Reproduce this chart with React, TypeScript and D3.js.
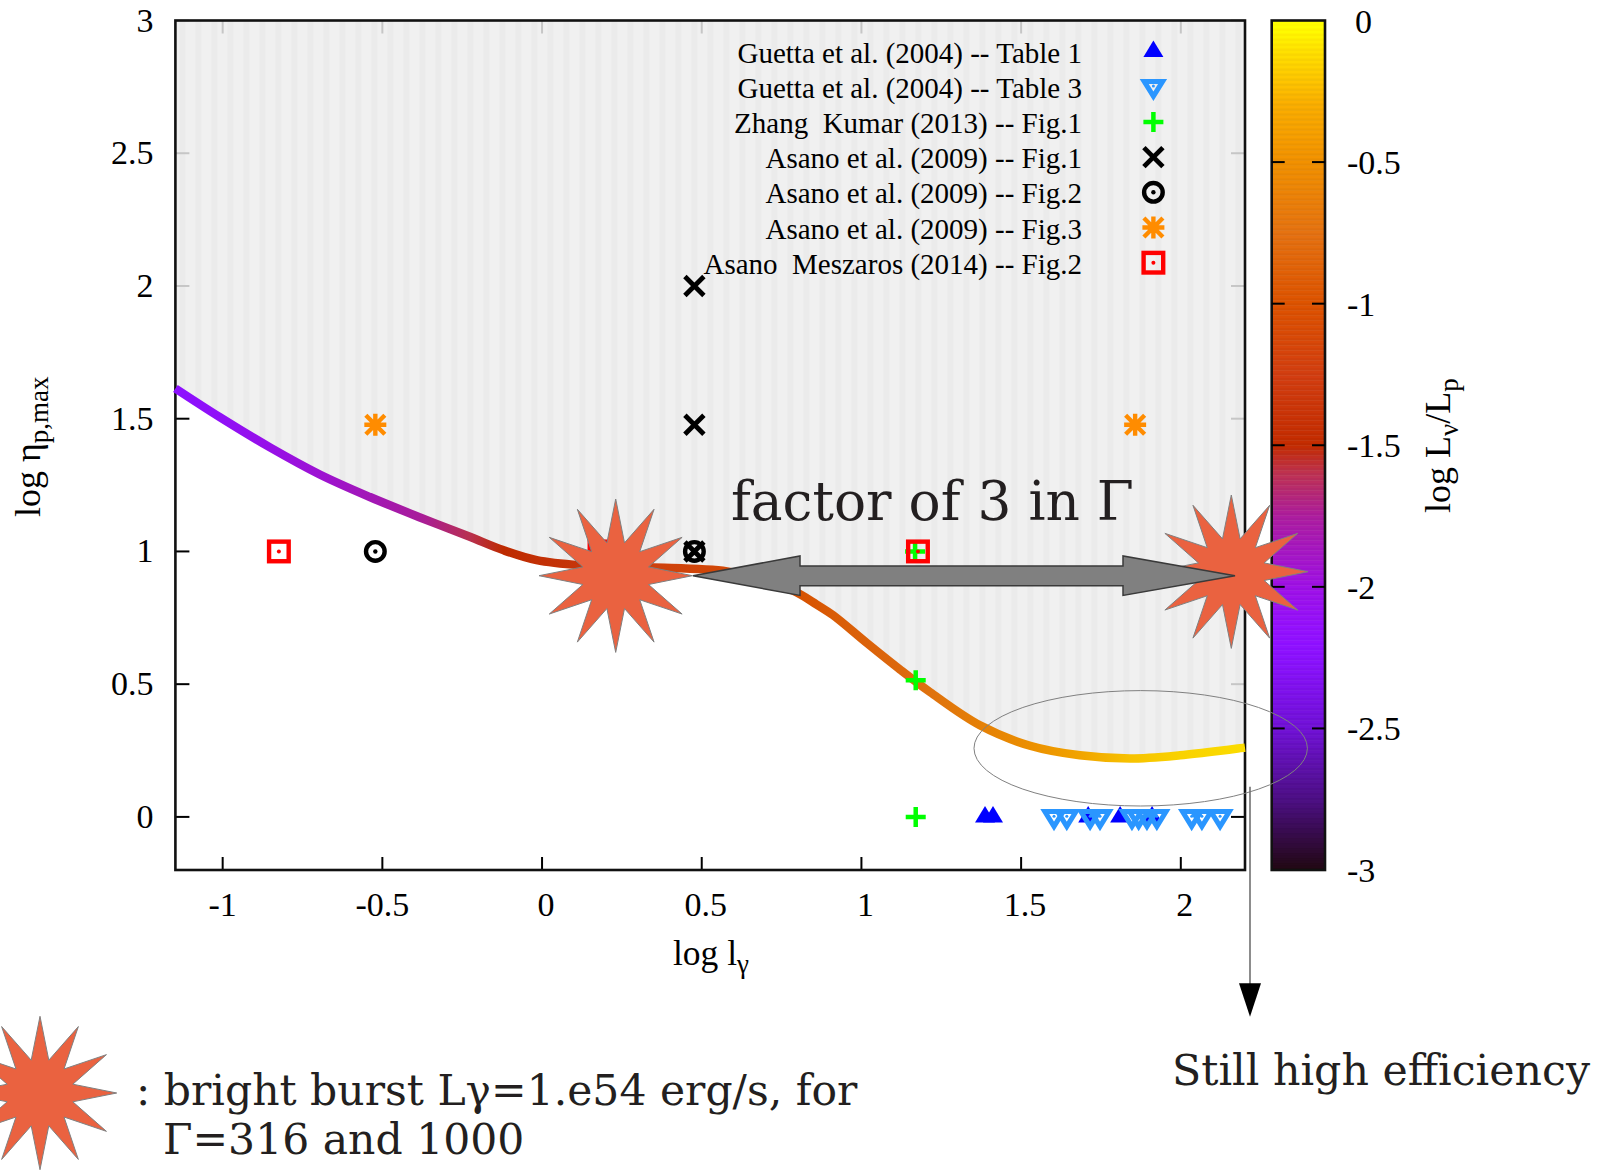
import React from "react";
import * as d3 from "d3";

// ---- data ----
const curveX = [-1.148, -1.009, -0.852, -0.696, -0.539, -0.382, -0.226, -0.122, -0.017, 0.119, 0.338, 0.579, 0.68, 0.786, 0.86, 0.911, 1.017, 1.121, 1.215, 1.371, 1.528, 1.684, 1.841, 1.998, 2.201];
const curveEta = [1.614, 1.506, 1.392, 1.29, 1.205, 1.128, 1.055, 1.005, 0.967, 0.948, 0.94, 0.925, 0.895, 0.852, 0.8, 0.76, 0.655, 0.555, 0.47, 0.345, 0.268, 0.232, 0.22, 0.232, 0.261];
const curveLogL = [-2.2, -2.15, -2.05, -1.95, -1.85, -1.75, -1.6, -1.5, -1.42, -1.35, -1.2, -1.1, -1.05, -1.0, -0.95, -0.9, -0.85, -0.8, -0.72, -0.6, -0.48, -0.33, -0.2, -0.14, -0.1];

const guettaT1 = [[1.387, 0], [1.412, 0], [1.71, 0], [1.81, 0], [1.91, 0]];
const guettaT3 = [[1.603, 0], [1.643, 0], [1.716, 0], [1.747, 0], [1.847, 0], [1.868, 0], [1.894, 0], [1.925, 0], [2.034, 0], [2.066, 0], [2.123, 0]];
const zhangKumar = [[1.17, 0.515], [1.17, 0], [1.168, 1]];
const asanoFig1 = [[0.477, 2], [0.477, 1.477], [0.477, 1]];
const asanoFig2 = [[-0.522, 1], [0.477, 1]];
const asanoFig3 = [[-0.522, 1.477], [1.857, 1.477]];
const asanoMeszaros = [[-0.824, 1], [1.177, 1], [0.18, 1]];

const legendLabels = [
  "Guetta et al. (2004) -- Table 1",
  "Guetta et al. (2004) -- Table 3",
  "Zhang  Kumar (2013) -- Fig.1",
  "Asano et al. (2009) -- Fig.1",
  "Asano et al. (2009) -- Fig.2",
  "Asano et al. (2009) -- Fig.3",
  "Asano  Meszaros (2014) -- Fig.2",
];
const legendKinds = ["up", "down", "plus", "cross", "ring", "star", "square"];

const xTicks = [-1, -0.5, 0, 0.5, 1, 1.5, 2];
const yTicks = [0, 0.5, 1, 1.5, 2, 2.5, 3];
const cbTicks = [0, -0.5, -1, -1.5, -2, -2.5, -3];

const paletteValues = [0, -0.1, -0.3, -0.5, -0.75, -1, -1.25, -1.5, -1.6, -1.75, -2, -2.2, -2.5, -2.75, -3];
const paletteColors = ["#ffff00", "#fbdc00", "#f2a800", "#ea8c00", "#de6e10", "#d65000", "#cc3c10", "#bd2a00", "#b83050", "#a81c9a", "#9a10e0", "#8c10ff", "#6d10d0", "#4a0e80", "#200810"];

const BLUE = "#0000ff", SKY = "#2a96ff", GREEN = "#00ff00", ORANGE = "#ff8c00", RED = "#ff0000";
const SERIF = "'Liberation Serif', serif";
const DJV = "'DejaVu Serif', serif";
const INK = "#231f20";

const L = 175.4, R = 1245, T = 20.5, B = 870;
const x = d3.scaleLinear().domain([-1.148, 2.201]).range([L, R]);
const y = d3.scaleLinear().domain([-0.2, 3]).range([B, T]);
const cbY = d3.scaleLinear().domain([-3, 0]).range([B, T]);
const CBL = 1271.7, CBR = 1325;
const palette = d3.scaleLinear<string>().domain(paletteValues).range(paletteColors).interpolate(d3.interpolateRgb);

const curve = curveX.map((v, i) => [v, curveEta[i]] as [number, number]);
const line = d3.line<[number, number]>().x(d => x(d[0])).y(d => y(d[1])).curve(d3.curveCatmullRom.alpha(0.5));
const area = d3.area<[number, number]>().x(d => x(d[0])).y0(T).y1(d => y(d[1])).curve(d3.curveCatmullRom.alpha(0.5));
const N_BANDS = 340;
const cbBands = d3.range(N_BANDS);

function starPath(cx: number, cy: number, Ro = 76.7, Ri = 34) {
  const pts = d3.range(24).map(i => {
    const a = (i * Math.PI) / 12;
    const r = i % 2 === 0 ? Ro : Ri;
    return [cx + r * Math.cos(a), cy + r * Math.sin(a)] as [number, number];
  });
  return d3.line().curve(d3.curveLinearClosed)(pts) as string;
}

function Mark({ kind, cx, cy }: { kind: string; cx: number; cy: number }) {
  const t = `translate(${cx},${cy})`;
  if (kind === "up") return <path transform={t} d="M0,-11L10,5.5L-10,5.5Z" fill={BLUE} />;
  if (kind === "down")
    return (
      <g transform={t}>
        <path d="M-9.2,-5.3L9.2,-5.3L0,9.5Z" fill="none" stroke={SKY} strokeWidth={5} strokeLinejoin="miter" />
        <circle cy={-0.6} r={1.5} fill={SKY} />
      </g>
    );
  if (kind === "plus")
    return <path transform={t} d="M-10,0H10M0,-10V10" stroke={GREEN} strokeWidth={4.5} fill="none" />;
  if (kind === "cross")
    return <path transform={t} d="M-9.5,-9.5L9.5,9.5M-9.5,9.5L9.5,-9.5" stroke="#000" strokeWidth={4.8} fill="none" />;
  if (kind === "ring")
    return (
      <g transform={t}>
        <circle r={9.3} fill="none" stroke="#000" strokeWidth={4.4} />
        <circle r={2.2} fill="#000" />
      </g>
    );
  if (kind === "star")
    return (
      <path transform={t} d="M-11,0H11M0,-11V11M-9.5,-9.5L9.5,9.5M-9.5,9.5L9.5,-9.5" stroke={ORANGE} strokeWidth={4.4} fill="none" />
    );
  return (
    <g transform={t}>
      <rect x={-9.8} y={-9.8} width={19.6} height={19.6} fill="none" stroke={RED} strokeWidth={4.4} />
      <circle r={2} fill={RED} />
    </g>
  );
}

const dxTick = (v: number) => (v >= 0 ? 4 : 0);
const legendY = (i: number) => 53 + i * 35.2;

export default function App() {
  const leftCurve = curveEta[0];
  const rightCurve = curveEta[curveEta.length - 1];
  const arrowY = 575.7;
  const bigArrow = [
    [693, arrowY], [800, 556], [800, 566], [1123, 566], [1123, 556], [1235, arrowY],
    [1123, 595.4], [1123, 585.7], [800, 585.7], [800, 595.4],
  ] as [number, number][];
  return (
    <svg width={1608} height={1170} style={{ position: "absolute", left: 0, top: 0, display: "block", background: "#fff" }}>
      <defs>
        <pattern id="stripes" patternUnits="userSpaceOnUse" width={16} height={10} x={L}>
          <rect width={16} height={10} fill="#f0f0f0" />
          <rect x={4} width={6} height={10} fill="#ebebeb" />
        </pattern>
        <linearGradient id="curveGrad" gradientUnits="userSpaceOnUse" x1={x(curveX[0])} x2={x(curveX[curveX.length - 1])} y1={0} y2={0}>
          {curveX.map((v, i) => (
            <stop key={i} offset={(x(v) - x(curveX[0])) / (x(curveX[curveX.length - 1]) - x(curveX[0]))} stopColor={palette(curveLogL[i])} />
          ))}
        </linearGradient>
      </defs>

      <path d={area(curve) as string} fill="url(#stripes)" />

      {xTicks.map(v => (
        <g key={v}>
          <line x1={x(v)} x2={x(v)} y1={T} y2={T + 13} stroke="#c6c6c6" strokeWidth={2} />
          <line x1={x(v)} x2={x(v)} y1={B} y2={B - 13} stroke="#000" strokeWidth={2} />
          <text x={x(v) + dxTick(v)} y={916} textAnchor="middle" fontFamily={SERIF} fontSize={34} fill="#000">{v}</text>
        </g>
      ))}
      {yTicks.map(v => (
        <g key={v}>
          <line x1={L} x2={L + 14} y1={y(v)} y2={y(v)} stroke={v > leftCurve ? "#c6c6c6" : "#000"} strokeWidth={2} />
          <line x1={R} x2={R - 14} y1={y(v)} y2={y(v)} stroke={v > rightCurve ? "#c6c6c6" : "#000"} strokeWidth={2} />
          <text x={153.5} y={y(v) + 11} textAnchor="end" fontFamily={SERIF} fontSize={34} fill="#000">{v}</text>
        </g>
      ))}
      <rect x={L} y={T} width={R - L} height={B - T} fill="none" stroke="#111" strokeWidth={2.6} />

      <text transform="translate(40,517) rotate(-90)" fontFamily={SERIF} fontSize={36} fill="#000">
        log η<tspan fontSize={27} dy={8}>p,max</tspan>
      </text>
      <text x={673} y={965} fontFamily={SERIF} fontSize={35.5} fill="#000">
        log l<tspan fontSize={27} dy={8}>γ</tspan>
      </text>

      {legendLabels.map((s, i) => (
        <g key={i}>
          <text x={1082} y={legendY(i) + 9.5} textAnchor="end" fontFamily={SERIF} fontSize={29} fill="#000" xmlSpace="preserve">{s}</text>
          <Mark kind={legendKinds[i]} cx={1153.4} cy={legendY(i) - 1.5} />
        </g>
      ))}

      {/* colour box */}
      {cbBands.map(i => {
        const v0 = -3 + (3 * i) / N_BANDS;
        const v1 = -3 + (3 * (i + 1)) / N_BANDS;
        const c = d3.color(palette((v0 + v1) / 2))!;
        const col = i % 2 === 0 ? c.formatHex() : c.brighter(0.1).formatHex();
        return <rect key={i} x={CBL} width={CBR - CBL} y={cbY(v1)} height={cbY(v0) - cbY(v1) + 0.5} fill={col} />;
      })}
      <rect x={CBL} y={T} width={CBR - CBL} height={B - T} fill="none" stroke="#111" strokeWidth={2.6} />
      {cbTicks.map(v => (
        <g key={v}>
          {v !== 0 && v !== -3 && (
            <>
              <line x1={CBL} x2={CBL + 13} y1={cbY(v)} y2={cbY(v)} stroke="#000" strokeWidth={2} />
              <line x1={CBR} x2={CBR - 13} y1={cbY(v)} y2={cbY(v)} stroke="#000" strokeWidth={2} />
            </>
          )}
          <text x={v === 0 ? 1355 : 1347} y={cbY(v) + 12} fontFamily={SERIF} fontSize={34} fill="#000">{v}</text>
        </g>
      ))}
      <text transform="translate(1450,513) rotate(-90)" fontFamily={SERIF} fontSize={36} fill="#000">
        log L<tspan fontSize={27} dy={8}>ν</tspan><tspan dy={-8}>/L</tspan><tspan fontSize={27} dy={8}>p</tspan>
      </text>

      {/* data */}
      <path d={line(curve) as string} fill="none" stroke="url(#curveGrad)" strokeWidth={8.5} />
      {guettaT1.map((d, i) => <Mark key={i} kind="up" cx={x(d[0])} cy={y(d[1])} />)}
      {guettaT3.map((d, i) => <Mark key={i} kind="down" cx={x(d[0])} cy={y(d[1])} />)}
      {zhangKumar.map((d, i) => <Mark key={i} kind="plus" cx={x(d[0])} cy={y(d[1])} />)}
      {asanoMeszaros.map((d, i) => <Mark key={i} kind="square" cx={x(d[0])} cy={y(d[1])} />)}
      {asanoFig1.map((d, i) => <Mark key={i} kind="cross" cx={x(d[0])} cy={y(d[1])} />)}
      {asanoFig2.map((d, i) => <Mark key={i} kind="ring" cx={x(d[0])} cy={y(d[1])} />)}
      {asanoFig3.map((d, i) => <Mark key={i} kind="star" cx={x(d[0])} cy={y(d[1])} />)}

      {/* annotations */}
      <text x={731} y={520} fontFamily={DJV} fontSize={53.4} fill={INK}>factor of 3 in Γ</text>
      <path d={starPath(615.7, 575.7)} fill="#ea6240" stroke="#808080" strokeWidth={1} />
      <path d={starPath(1231.3, 571.7)} fill="#ea6240" stroke="#808080" strokeWidth={1} />
      <path d={starPath(40, 1093)} fill="#ea6240" stroke="#808080" strokeWidth={1} />
      <path d={d3.line().curve(d3.curveLinearClosed)(bigArrow) as string} fill="#808080" stroke="#3a3a3a" strokeWidth={1.5} strokeLinejoin="miter" />
      <ellipse cx={1140.7} cy={748.3} rx={166.7} ry={57.7} fill="none" stroke="#808080" strokeWidth={1} />
      <line x1={1250} x2={1250} y1={786.7} y2={984} stroke="#707070" strokeWidth={1.6} />
      <path d="M1239,983.3H1261L1250,1016.7Z" fill="#000" />
      <text x={1172} y={1085} fontFamily={DJV} fontSize={42.7} fill={INK}>Still high efficiency</text>
      <text x={136} y={1105} fontFamily={DJV} fontSize={42.5} fill={INK}>: bright burst Lγ=1.e54 erg/s, for</text>
      <text x={163} y={1154} fontFamily={DJV} fontSize={42.5} fill={INK}>Γ=316 and 1000</text>
    </svg>
  );
}
